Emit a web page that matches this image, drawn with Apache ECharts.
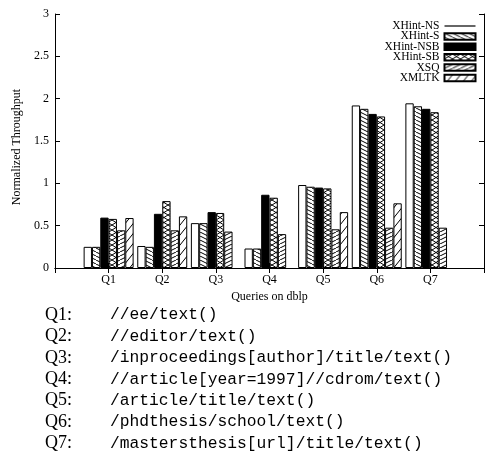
<!DOCTYPE html>
<html>
<head>
<meta charset="utf-8">
<script src="https://cdn.jsdelivr.net/npm/echarts@6/dist/echarts.min.js"></script>
<style>html,body{margin:0;padding:0;background:#fff}#c{width:487px;height:451px}</style>
</head>
<body>
<div id="c"></div>
<script>
var categories = ['Q1', 'Q2', 'Q3', 'Q4', 'Q5', 'Q6', 'Q7'];
var yTicks = [0, 0.5, 1, 1.5, 2, 2.5, 3];
var seriesNames = ['XHint-NS', 'XHint-S', 'XHint-NSB', 'XHint-SB', 'XSQ', 'XMLTK'];
var nsVals    = [0.25, 0.26, 0.53, 0.23, 0.98, 1.92, 1.945];
var sVals     = [0.25, 0.25, 0.53, 0.23, 0.96, 1.88, 1.91];
var nsbVals   = [0.595, 0.64, 0.66, 0.865, 0.95, 1.82, 1.88];
var sbVals    = [0.58, 0.79, 0.65, 0.83, 0.94, 1.79, 1.84];
var xsqVals   = [0.445, 0.445, 0.43, 0.40, 0.457, 0.476, 0.476];
var xmltkVals = [0.59, 0.61, null, null, 0.66, 0.764, null];
var queryIds = ['Q1:', 'Q2:', 'Q3:', 'Q4:', 'Q5:', 'Q6:', 'Q7:'];
var queryPaths = [
  '//ee/text()',
  '//editor/text()',
  '/inproceedings[author]/title/text()',
  '//article[year=1997]//cdrom/text()',
  '/article/title/text()',
  '/phdthesis/school/text()',
  '/mastersthesis[url]/title/text()'
];

function hatch(w, h, dirs) {
  var c = document.createElement('canvas');
  c.width = w; c.height = h;
  var g = c.getContext('2d');
  g.fillStyle = '#fff'; g.fillRect(0, 0, w, h);
  g.strokeStyle = '#000'; g.lineWidth = 1;
  dirs.forEach(function (d) {
    for (var k = -1; k <= 1; k++) {
      g.beginPath();
      if (d === '\\') { g.moveTo(k * w, 0); g.lineTo(k * w + w, h); }
      else { g.moveTo(k * w, h); g.lineTo(k * w + w, 0); }
      g.stroke();
    }
  });
  return { image: c, repeat: 'repeat' };
}

var fills = [
  '#ffffff',
  hatch(8, 4, ['\\']),
  '#000000',
  hatch(8, 5, ['\\', '/']),
  hatch(8, 4, ['/']),
  hatch(8, 10, ['/'])
];
var valueSets = [nsVals, sVals, nsbVals, sbVals, xsqVals, xmltkVals];
var axisCats = [''].concat(categories, ['']);

var serif = 'Liberation Serif';
var series = seriesNames.map(function (name, i) {
  var vals = valueSets[i];
  return {
    name: name,
    type: 'bar',
    barWidth: 8.33,
    barGap: '0%',
    data: ['-'].concat(vals.map(function (v) { return v == null ? '-' : v; }), ['-']),
    itemStyle: { color: fills[i], borderColor: '#000', borderWidth: 1 },
    emphasis: { disabled: true },
    animation: false
  };
});

var legendData = seriesNames.map(function (n, i) {
  if (i === 0) {
    return { name: n, icon: 'path://M0,0H31V1.2H0Z', itemStyle: { color: '#000', borderWidth: 0 } };
  }
  return { name: n, icon: 'rect' };
});

var graphics = [{
  type: 'text', x: 17, y: 147, rotation: Math.PI / 2,
  style: { text: 'Normalized Throughput', font: '12px "Liberation Serif"', fill: '#000', align: 'center', verticalAlign: 'middle' }
}];
queryIds.forEach(function (q, i) {
  var y = 315 + i * 21.4;
  graphics.push({ type: 'text', x: 45, y: y, style: { text: q, font: '18px "Liberation Serif"', fill: '#000', verticalAlign: 'middle' } });
  graphics.push({ type: 'text', x: 110, y: y, style: { text: queryPaths[i], font: '16.3px "Liberation Mono"', fill: '#000', verticalAlign: 'middle' } });
});

var chart = echarts.init(document.getElementById('c'), null, { renderer: 'canvas' });
chart.setOption({
  backgroundColor: '#fff',
  animation: false,
  grid: { left: 55, top: 14, width: 433, height: 254, containLabel: false },
  legend: {
    orient: 'vertical', align: 'right', right: 10.5, top: 20, padding: 0,
    itemWidth: 31, itemHeight: 6.5, itemGap: -1.6,
    textStyle: { fontFamily: serif, fontSize: 11.5, color: '#000' },
    data: legendData,
    selectedMode: false
  },
  xAxis: [{
    type: 'category', data: axisCats, boundaryGap: false, position: 'bottom',
    axisLine: { lineStyle: { color: '#000', width: 1 } },
    axisTick: { inside: true, length: 5, interval: 0, lineStyle: { color: '#000' } },
    axisLabel: { interval: 0, margin: 6, fontFamily: serif, fontSize: 12, color: '#000' },
    name: 'Queries on dblp', nameLocation: 'middle', nameGap: 23,
    nameTextStyle: { fontFamily: serif, fontSize: 12, color: '#000' },
    splitLine: { show: false }
  }, {
    type: 'category', data: axisCats, boundaryGap: false, position: 'top',
    axisLine: { lineStyle: { color: '#000', width: 1 } },
    axisTick: { inside: true, length: 5, interval: 0, lineStyle: { color: '#000' } },
    axisLabel: { show: false }, splitLine: { show: false }
  }],
  yAxis: [{
    type: 'value', min: 0, max: 3, interval: 0.5, position: 'left',
    axisLine: { show: true, lineStyle: { color: '#000', width: 1 } },
    axisTick: { show: true, inside: true, length: 5, lineStyle: { color: '#000' } },
    axisLabel: { margin: 6, fontFamily: serif, fontSize: 12, color: '#000',
      formatter: function (v) { return yTicks.indexOf(v) >= 0 ? String(v) : ''; } },
    splitLine: { show: false }
  }, {
    type: 'value', min: 0, max: 3, interval: 0.5, position: 'right',
    axisLine: { show: true, lineStyle: { color: '#000', width: 1 } },
    axisTick: { show: true, inside: true, length: 5, lineStyle: { color: '#000' } },
    axisLabel: { show: false }, splitLine: { show: false }
  }],
  series: series,
  graphic: graphics
});
</script>
</body>
</html>
